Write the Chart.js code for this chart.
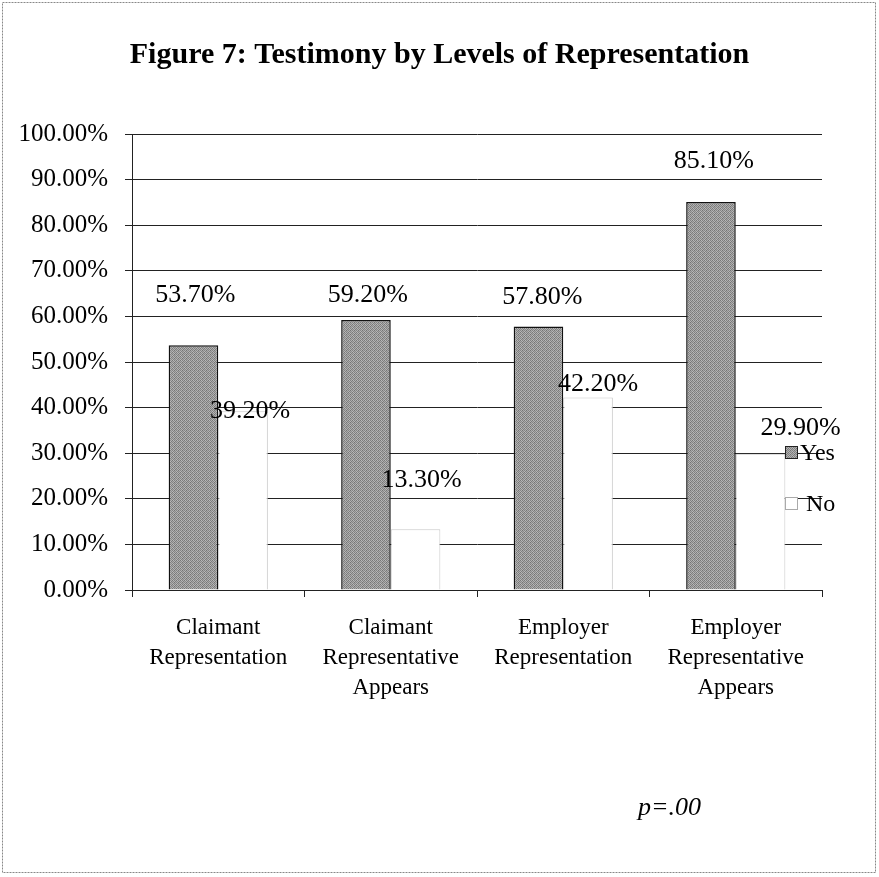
<!DOCTYPE html>
<html>
<head>
<meta charset="utf-8">
<script src="https://cdn.jsdelivr.net/npm/chart.js@4/dist/chart.umd.min.js"></script>
<style>
  html, body { margin: 0; padding: 0; background: #fff; }
  canvas { display: block; }
</style>
</head>
<body>
<canvas id="chart" width="879" height="877"></canvas>
<script>
const categories = [
    ['Claimant', 'Representation'],
    ['Claimant', 'Representative', 'Appears'],
    ['Employer', 'Representation'],
    ['Employer', 'Representative', 'Appears']
];
const seriesNames = ['Yes', 'No'];
const yesValues = [53.7, 59.2, 57.8, 85.1];
const noValues = [39.2, 13.3, 42.2, 29.9];
const titleText = 'Figure 7: Testimony by Levels of Representation';
const noteText = 'p=.00';

// where the percent labels sit relative to their bar top (px), as in the original
const labelNudge = [
    [[2, -50], [2, -25], [4, -29], [3, -41]],
    [[7, 0], [6, -49], [10, -13], [40, -25]]
];

const serif = '"Liberation Serif", "Times New Roman", serif';

function grainPattern() {
    const c = document.createElement('canvas');
    c.width = 4; c.height = 4;
    const g = c.getContext('2d');
    const shades = [
        '#787878', '#bababa', '#808080', '#b0b0b0',
        '#a8a8a8', '#888888', '#b6b6b6', '#7c7c7c',
        '#848484', '#b2b2b2', '#747474', '#acacac',
        '#b8b8b8', '#808080', '#a4a4a4', '#8a8a8a'
    ];
    shades.forEach((s, i) => {
        g.fillStyle = s;
        g.fillRect(i % 4, Math.floor(i / 4), 1, 1);
    });
    return g.createPattern(c, 'repeat');
}

const grain = grainPattern();

const extras = {
    id: 'extras',
    afterDatasetsDraw(chart) {
        const ctx = chart.ctx;
        ctx.save();
        ctx.fillStyle = '#000';
        ctx.textAlign = 'center';
        ctx.textBaseline = 'middle';

        // title, centred on the whole page
        ctx.font = 'bold 30px ' + serif;
        ctx.fillText(titleText, chart.width / 2, 55);

        ctx.font = '26px ' + serif;
        chart.data.datasets.forEach((ds, di) => {
            chart.getDatasetMeta(di).data.forEach((bar, i) => {
                const n = labelNudge[di][i];
                ctx.fillText(ds.data[i].toFixed(2) + '%', bar.x + n[0], bar.y + n[1]);
            });
        });

        // legend over the right edge of the plot
        const ca = chart.chartArea;
        const lx = ca.right - 37;
        ctx.font = '24px ' + serif;
        chart.data.datasets.forEach((ds, di) => {
            const ly = ca.top + 318 + di * 51;
            ctx.fillStyle = ds.backgroundColor;
            ctx.fillRect(lx, ly - 6, 12, 12);
            ctx.lineWidth = 1;
            ctx.strokeStyle = di === 0 ? '#222' : '#aaa';
            ctx.strokeRect(lx + 0.5, ly - 5.5, 12, 12);
            ctx.fillStyle = '#000';
            ctx.textAlign = 'left';
            ctx.fillText(ds.label, lx + 15 + di * 6, ly + 2);
        });

        ctx.font = 'italic 26px ' + serif;
        ctx.fillText(noteText, 638, 808);

        ctx.strokeStyle = '#888';
        ctx.setLineDash([2, 1]);
        ctx.strokeRect(2.5, 2.5, 873, 870);
        ctx.restore();
    }
};

new Chart(document.getElementById('chart').getContext('2d'), {
    type: 'bar',
    data: {
        labels: categories,
        datasets: [
            {
                label: seriesNames[0],
                data: yesValues,
                backgroundColor: grain,
                borderColor: '#111',
                borderWidth: 1.5,
                categoryPercentage: 0.575,
                barPercentage: 1.0
            },
            {
                label: seriesNames[1],
                data: noValues,
                backgroundColor: '#ffffff',
                borderColor: '#c8c8c8',
                borderWidth: 1,
                categoryPercentage: 0.575,
                barPercentage: 1.0
            }
        ]
    },
    options: {
        responsive: false,
        animation: false,
        layout: { padding: { left: 0, right: 57, top: 134, bottom: 0 } },
        plugins: {
            legend: { display: false },
            tooltip: { enabled: false },
            title: { display: false }
        },
        scales: {
            x: {
                grid: { display: true, drawOnChartArea: false, drawTicks: true, tickLength: 7, color: '#222' },
                border: { display: true, color: '#222', width: 1 },
                ticks: {
                    color: '#000',
                    font: { family: serif, size: 23, lineHeight: 1.3 },
                    padding: 16,
                    maxRotation: 0,
                    autoSkip: false
                },
                afterFit(scale) { scale.height = 287; }
            },
            y: {
                min: 0,
                max: 100,
                grid: { color: '#222', tickLength: 7 },
                border: { display: true, color: '#222', width: 1 },
                ticks: {
                    stepSize: 10,
                    color: '#000',
                    font: { family: serif, size: 25 },
                    padding: 17,
                    callback: v => v.toFixed(2) + '%'
                },
                afterFit(scale) { scale.width = 132; }
            }
        }
    },
    plugins: [extras]
});
</script>
</body>
</html>
